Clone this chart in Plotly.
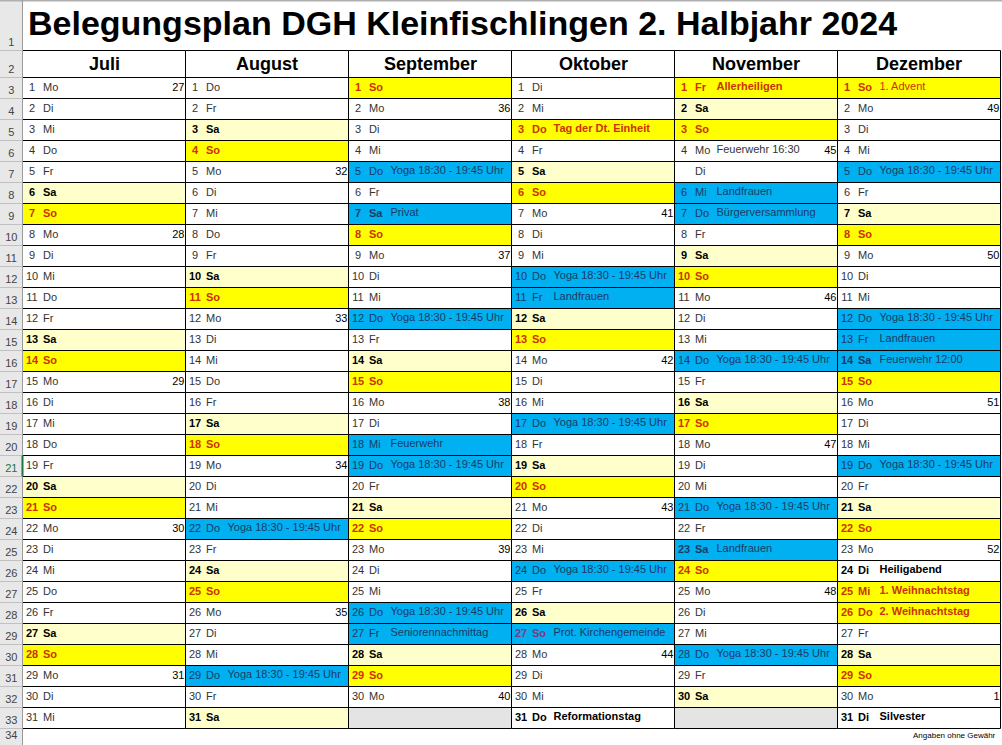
import datetime
import plotly.graph_objects as go

TITLE = "Belegungsplan DGH Kleinfischlingen 2. Halbjahr 2024"
MONTHS = ["Juli", "August", "September", "Oktober", "November", "Dezember"]
MONTH_NUMS = [7, 8, 9, 10, 11, 12]
DAYS_IN_MONTH = [31, 31, 30, 31, 30, 31]
WEEKDAYS = ["Mo", "Di", "Mi", "Do", "Fr", "Sa", "So"]
# calendar week shown at the right of every Monday
WEEK_NUMBERS = [
    [27, 28, 29, 30, 31],
    [32, 33, 34, 35],
    [36, 37, 38, 39, 40],
    [41, 42, 43, 44],
    [45, 46, 47, 48],
    [49, 50, 51, 52, 1],
]
YOGA = "Yoga 18:30 - 19:45 Uhr"
YOGA_DAYS = {
    8: [22, 29],
    9: [5, 12, 19, 26],
    10: [10, 17, 24],
    11: [14, 21, 28],
    12: [5, 12, 19],
}
BOOKINGS = [
    (9, 7, "Privat"),
    (9, 18, "Feuerwehr"),
    (9, 27, "Seniorennachmittag"),
    (10, 11, "Landfrauen"),
    (10, 27, "Prot. Kirchengemeinde"),
    (11, 6, "Landfrauen"),
    (11, 7, "Bürgerversammlung"),
    (11, 23, "Landfrauen"),
    (12, 13, "Landfrauen"),
    (12, 14, "Feuerwehr 12:00"),
]
HOLIDAYS = [
    (10, 3, "Tag der Dt. Einheit"),
    (11, 1, "Allerheiligen"),
    (12, 25, "1. Weihnachtstag"),
    (12, 26, "2. Weihnachtstag"),
]
SUNDAY_NOTES = [(12, 1, "1. Advent")]
NOTES = [
    (10, 31, "Reformationstag"),
    (12, 24, "Heiligabend"),
    (12, 31, "Silvester"),
]
PLAIN_NOTES = [(11, 4, "Feuerwehr 16:30")]
NO_NUMBER = [(11, 5)]
FOOTNOTE = "Angaben ohne Gewähr"

# sheet geometry (pixels)
COL0 = 22.5
COLW = 163
HEAD_TOP = 50.5
ROW_TOP = 77.5
ROWH = 21
W, H = 1002, 745

FONT = "Liberation Sans, Arial, sans-serif"
SAT_FILL = "#ffffcc"
SUN_FILL = "#ffff00"
BLUE = "#00b0f0"
MISSING = "#e4e4e4"
HEADER_BG = "#e8e8e8"
TXT = "#333333"
RED = "#cc3300"
BLUE_TXT = "#1d3a66"
BLUE_RED = "#7a3b80"

booking_map = {(m, d): t for m, d, t in BOOKINGS}
for m, days in YOGA_DAYS.items():
    for d in days:
        booking_map[(m, d)] = YOGA
holiday_map = {(m, d): t for m, d, t in HOLIDAYS}
sun_note_map = {(m, d): t for m, d, t in SUNDAY_NOTES}
note_map = {(m, d): t for m, d, t in NOTES}
plain_map = {(m, d): t for m, d, t in PLAIN_NOTES}

shapes = []
num = {"x": [], "y": [], "t": [], "c": []}
wday = {"x": [], "y": [], "t": [], "c": []}
evt = {"x": [], "y": [], "t": [], "c": []}
kw = {"x": [], "y": [], "t": []}


def add(store, x, y, t, c=None):
    store["x"].append(x)
    store["y"].append(y)
    store["t"].append(t)
    if c is not None:
        store["c"].append(c)


# row header column and top strip
shapes.append(dict(type="rect", x0=0, x1=COL0, y0=0, y1=H, fillcolor=HEADER_BG,
                   line=dict(width=0), layer="below"))
shapes.append(dict(type="line", x0=0, x1=W, y0=0.5, y1=0.5, line=dict(color="#b0b0b0", width=2)))
row_edges = [0, HEAD_TOP] + [ROW_TOP + i * ROWH for i in range(33)]
for e in row_edges[1:]:
    shapes.append(dict(type="line", x0=0, x1=COL0, y0=e, y1=e, line=dict(color="#c0c0c0", width=1)))
shapes.append(dict(type="line", x0=COL0, x1=COL0, y0=0, y1=H, line=dict(color="#9a9a9a", width=1)))
row_lbl = {"x": [], "y": [], "t": [], "c": []}
for i in range(len(row_edges) - 1):
    add(row_lbl, COL0 / 2, min(row_edges[i + 1] - 7.5, 736), str(i + 1),
        "#217346" if i + 1 == 21 else "#444444")

for mi, (name, mn, ndays) in enumerate(zip(MONTHS, MONTH_NUMS, DAYS_IN_MONTH)):
    x0 = COL0 + mi * COLW
    x1 = x0 + COLW
    shapes.append(dict(type="rect", x0=x0, x1=x1, y0=HEAD_TOP, y1=ROW_TOP, fillcolor="white",
                       line=dict(color="black", width=1), layer="below"))
    weeks = list(WEEK_NUMBERS[mi])
    for d in range(1, 32):
        y0 = ROW_TOP + (d - 1) * ROWH
        yc = y0 + ROWH / 2
        if d > ndays:
            shapes.append(dict(type="rect", x0=x0, x1=x1, y0=y0, y1=y0 + ROWH, fillcolor=MISSING,
                               line=dict(color="black", width=1), layer="below"))
            continue
        key = (mn, d)
        wd = WEEKDAYS[datetime.date(2024, mn, d).weekday()]
        fill, color, bold, text, tcol, tbold = "white", TXT, False, None, TXT, False
        if key in booking_map:
            fill, text, tcol = BLUE, booking_map[key], BLUE_TXT
            color = BLUE_RED if wd == "So" else BLUE_TXT
            bold = wd in ("Sa", "So")
        elif key in holiday_map:
            fill, color, bold = SUN_FILL, RED, True
            text, tcol, tbold = holiday_map[key], RED, True
        elif key in sun_note_map:
            fill, color, bold = SUN_FILL, RED, True
            text, tcol = sun_note_map[key], RED
        elif key in note_map:
            bold, color = True, "black"
            text, tcol, tbold = note_map[key], "black", True
        elif wd == "So":
            fill, color, bold = SUN_FILL, RED, True
        elif wd == "Sa":
            fill, color, bold = SAT_FILL, "black", True
        if key in plain_map:
            text = plain_map[key]
        shapes.append(dict(type="rect", x0=x0, x1=x1, y0=y0, y1=y0 + ROWH, fillcolor=fill,
                           line=dict(color="black", width=1), layer="below"))
        b = (lambda s: "<b>%s</b>" % s) if bold else (lambda s: s)
        if key not in NO_NUMBER:
            add(num, x0 + 9.5, yc, b(str(d)), color)
        add(wday, x0 + 20.5, yc, b(wd), color)
        if text:
            add(evt, x0 + 42, yc - 1, "<b>%s</b>" % text if tbold else text, tcol)
        if wd == "Mo" and weeks:
            add(kw, x1 - 1, yc, str(weeks.pop(0)))

fig = go.Figure()
fig.add_trace(go.Scatter(x=row_lbl["x"], y=row_lbl["y"], text=row_lbl["t"], mode="text",
                         textposition="middle center", textfont=dict(family=FONT, size=11, color=row_lbl["c"]),
                         hoverinfo="skip"))
fig.add_trace(go.Scatter(x=num["x"], y=num["y"], text=num["t"], mode="text",
                         textposition="middle center", textfont=dict(family=FONT, size=11, color=num["c"]),
                         hoverinfo="skip"))
fig.add_trace(go.Scatter(x=wday["x"], y=wday["y"], text=wday["t"], mode="text",
                         textposition="middle right", textfont=dict(family=FONT, size=11, color=wday["c"]),
                         hoverinfo="skip"))
fig.add_trace(go.Scatter(x=evt["x"], y=evt["y"], text=evt["t"], mode="text",
                         textposition="middle right", textfont=dict(family=FONT, size=11, color=evt["c"]),
                         hoverinfo="skip"))
fig.add_trace(go.Scatter(x=kw["x"], y=kw["y"], text=kw["t"], mode="text",
                         textposition="middle left", textfont=dict(family=FONT, size=11, color="black"),
                         hoverinfo="skip"))

annotations = [dict(x=26, y=23, text="<b>%s</b>" % TITLE, showarrow=False, xanchor="left",
                    yanchor="middle", font=dict(family=FONT, size=34, color="black"))]
for mi, name in enumerate(MONTHS):
    annotations.append(dict(x=COL0 + mi * COLW + COLW / 2, y=(HEAD_TOP + ROW_TOP) / 2,
                            text="<b>%s</b>" % name, showarrow=False, xanchor="center", yanchor="middle",
                            font=dict(family=FONT, size=18, color="black")))
annotations.append(dict(x=998, y=735, text=FOOTNOTE, showarrow=False, xanchor="right", yanchor="middle",
                        font=dict(family=FONT, size=8, color="black")))

# selected row marker like in the spreadsheet
shapes.append(dict(type="line", x0=COL0, x1=COL0, y0=ROW_TOP + 18 * ROWH, y1=ROW_TOP + 19 * ROWH,
                   line=dict(color="#217346", width=2)))

fig.update_layout(
    width=W, height=H,
    margin=dict(l=0, r=0, t=0, b=0),
    paper_bgcolor="white", plot_bgcolor="white",
    showlegend=False,
    xaxis=dict(range=[0, W], visible=False, fixedrange=True),
    yaxis=dict(range=[H, 0], visible=False, fixedrange=True),
    shapes=shapes,
    annotations=annotations,
)

fig.write_html("out.html", config={"displayModeBar": False},
               post_script="document.body.style.margin='0';")
